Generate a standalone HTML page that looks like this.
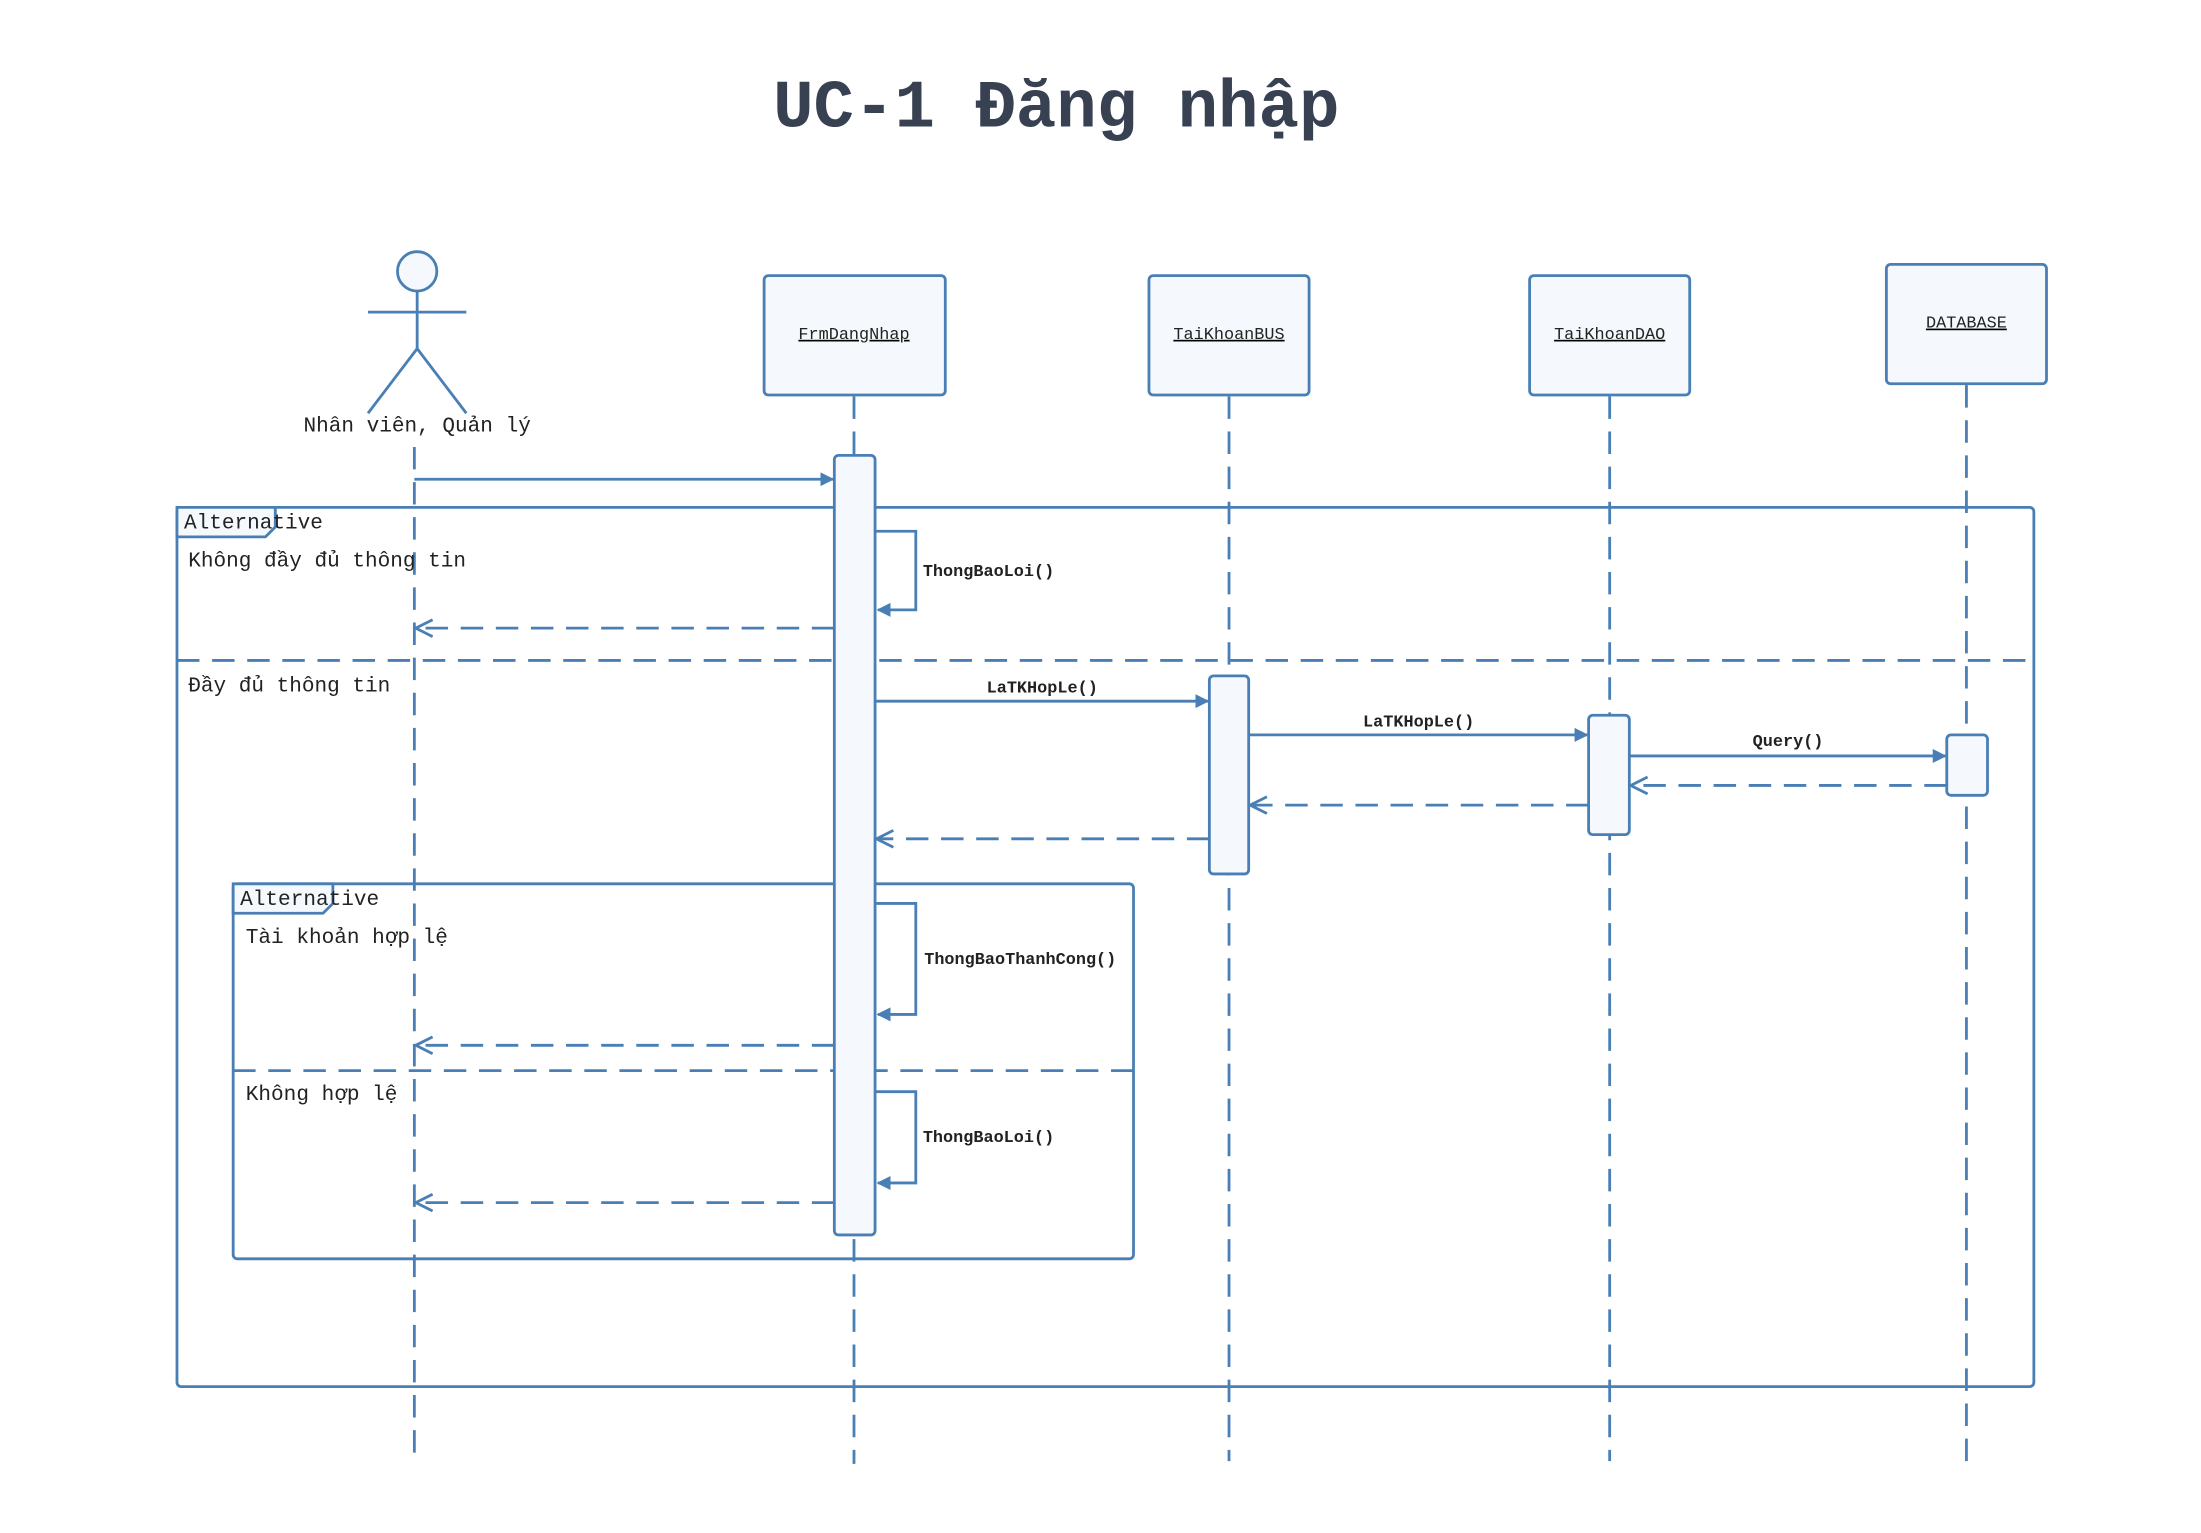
<!DOCTYPE html>
<html><head><meta charset="utf-8"><style>
html,body{margin:0;padding:0;background:#fff}
svg{display:block}
text{font-family:"Liberation Mono","DejaVu Sans Mono",monospace;fill:#222}
</style></head><body>
<svg width="2201" height="1533" viewBox="0 0 1567 1091" xmlns="http://www.w3.org/2000/svg">
<defs>
<marker id="a" markerWidth="10" markerHeight="10" refX="9" refY="5" orient="auto" markerUnits="userSpaceOnUse"><path d="M0,0 L10,5 L0,10 Z" fill="#4a7fb5"/></marker>
<marker id="o" markerWidth="16" markerHeight="16" refX="13" refY="7" orient="auto" markerUnits="userSpaceOnUse"><path d="M1,1 L13,7 L1,13" fill="none" stroke="#4a7fb5" stroke-width="2"/></marker>
</defs>
<rect width="1567" height="1091" fill="#fff"/>
<text x="752" y="90" text-anchor="middle" font-size="48" font-weight="bold" style="fill:#374151">UC-1 Đăng nhập</text>
<g stroke="#4a7fb5" stroke-width="2" fill="none">
<g stroke-dasharray="16,9">
<line x1="295" y1="318" x2="295" y2="1040"/>
<line x1="608" y1="282" x2="608" y2="1042"/>
<line x1="875" y1="282" x2="875" y2="1040"/>
<line x1="1146" y1="282" x2="1146" y2="1040"/>
<line x1="1400" y1="274" x2="1400" y2="1040"/>
</g>
<circle cx="297" cy="193" r="14" fill="#f5f9fd"/>
<line x1="297" y1="207" x2="297" y2="248"/>
<line x1="262" y1="222" x2="332" y2="222"/>
<line x1="297" y1="248" x2="262" y2="294"/>
<line x1="297" y1="248" x2="332" y2="294"/>
<rect x="544" y="196" width="129" height="85" rx="3" fill="#f5f9fd"/>
<rect x="818" y="196" width="114" height="85" rx="3" fill="#f5f9fd"/>
<rect x="1089" y="196" width="114" height="85" rx="3" fill="#f5f9fd"/>
<rect x="1343" y="188" width="114" height="85" rx="3" fill="#f5f9fd"/>
<rect x="126" y="361" width="1322" height="626" rx="3"/>
<path d="M126,361 H196 V375 L189,382 H126 Z" fill="#f5f9fd"/>
<line x1="126" y1="470" x2="1448" y2="470" stroke-dasharray="16,9"/>
<rect x="166" y="629" width="641" height="267" rx="3"/>
<path d="M166,629 H237 V643 L230,650 H166 Z" fill="#f5f9fd"/>
<line x1="166" y1="762" x2="807" y2="762" stroke-dasharray="16,9"/>
<rect x="594" y="324" width="29" height="555" rx="3" fill="#f5f9fd"/>
<rect x="861" y="481" width="28" height="141" rx="3" fill="#f5f9fd"/>
<rect x="1131" y="509" width="29" height="85" rx="3" fill="#f5f9fd"/>
<rect x="1386" y="523" width="29" height="43" rx="3" fill="#f5f9fd"/>
<line x1="295" y1="341" x2="593" y2="341" marker-end="url(#a)"/>
<path d="M623,378 H652 V434 H625" marker-end="url(#a)"/>
<line x1="594" y1="447" x2="296" y2="447" stroke-dasharray="16,9" marker-end="url(#o)"/>
<line x1="623" y1="499" x2="860" y2="499" marker-end="url(#a)"/>
<line x1="889" y1="523" x2="1130" y2="523" marker-end="url(#a)"/>
<line x1="1160" y1="538" x2="1385" y2="538" marker-end="url(#a)"/>
<line x1="1386" y1="559" x2="1161" y2="559" stroke-dasharray="16,9" marker-end="url(#o)"/>
<line x1="1131" y1="573" x2="890" y2="573" stroke-dasharray="16,9" marker-end="url(#o)"/>
<line x1="861" y1="597" x2="624" y2="597" stroke-dasharray="16,9" marker-end="url(#o)"/>
<path d="M623,643 H652 V722 H625" marker-end="url(#a)"/>
<line x1="594" y1="744" x2="296" y2="744" stroke-dasharray="16,9" marker-end="url(#o)"/>
<path d="M623,777 H652 V842 H625" marker-end="url(#a)"/>
<line x1="594" y1="856" x2="296" y2="856" stroke-dasharray="16,9" marker-end="url(#o)"/>
</g>
<text x="297" y="307" text-anchor="middle" font-size="15">Nhân viên, Quản lý</text>
<g font-size="12" text-anchor="middle" text-decoration="underline">
<text x="608" y="241">FrmDangNhap</text>
<text x="875" y="241">TaiKhoanBUS</text>
<text x="1146" y="241">TaiKhoanDAO</text>
<text x="1400" y="233">DATABASE</text>
</g>
<g font-size="15">
<text x="131" y="376">Alternative</text>
<text x="134" y="403">Không đầy đủ thông tin</text>
<text x="134" y="492">Đầy đủ thông tin</text>
<text x="171" y="644">Alternative</text>
<text x="175" y="671">Tài khoản hợp lệ</text>
<text x="175" y="783">Không hợp lệ</text>
</g>
<g font-size="12" font-weight="bold">
<text x="657" y="410">ThongBaoLoi()</text>
<text x="742" y="493" text-anchor="middle">LaTKHopLe()</text>
<text x="1010" y="517" text-anchor="middle">LaTKHopLe()</text>
<text x="1273" y="531" text-anchor="middle">Query()</text>
<text x="658" y="686">ThongBaoThanhCong()</text>
<text x="657" y="813">ThongBaoLoi()</text>
</g>
</svg>
</body></html>
